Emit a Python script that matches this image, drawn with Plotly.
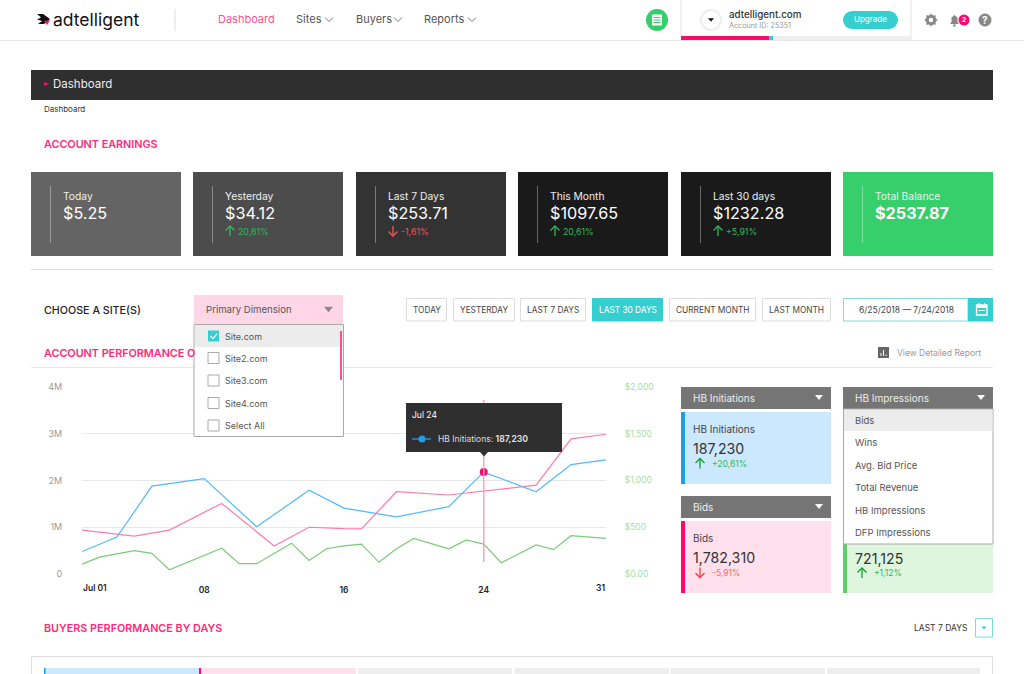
import math
import plotly.graph_objects as go

W = 1024
H = 674
FONT = "Inter"

PINK = "#ff0a6c"
PINK_TEXT = "#ff2a7c"
TEAL = "#36cfcf"
GREEN = "#2fb95a"
RED = "#f25555"

# chart values
blue_days = [1, 3, 5, 8, 11, 14, 16, 19, 22, 24, 27, 29, 31]
blue_values = [480000, 790000, 1880000, 2040000, 1010000, 1790000, 1410000, 1220000, 1440000, 2180000, 1760000, 2340000, 2440000]

pink_days = [1, 3, 4, 6, 9, 12, 14, 16, 17, 19, 22, 27, 29, 31]
pink_values = [940000, 860000, 810000, 940000, 1510000, 600000, 1000000, 970000, 965000, 1760000, 1690000, 1900000, 2890000, 2990000]

green_days = [1, 2, 4, 5, 6, 9, 10, 11, 13, 14, 15, 16, 17, 18, 19, 20, 22, 23, 24, 25, 27, 28, 29, 31]
green_values = [105, 180, 250, 220, 45, 275, 110, 110, 330, 145, 270, 300, 320, 125, 270, 380, 270, 365, 320, 120, 310, 260, 410, 380]

hover_day = 24

left_ticks = [0, 1000000, 2000000, 3000000, 4000000]
left_labels = ["0", "1M", "2M", "3M", "4M"]
right_ticks = [0, 500, 1000, 1500, 2000]
right_labels = ["$0.00", "$500", "$1,000", "$1,500", "$2,000"]
x_ticks = [8, 16, 24]
x_labels = ["08", "16", "24"]

# dashboard texts and numbers
kpi_titles = ["Today", "Yesterday", "Last 7 Days", "This Month", "Last 30 days", "Total Balance"]
kpi_values = ["$5.25", "$34.12", "$253.71", "$1097.65", "$1232.28", "$2537.87"]
kpi_deltas = ["", "20,61%", "-1,61%", "20,61%", "+5,91%", ""]
kpi_left = [31, 193, 356, 518, 681, 843]
kpi_fill = ["#646464", "#4c4c4c", "#333333", "#1a1a1a", "#1a1a1a", "#36cf6b"]

range_labels = ["TODAY", "YESTERDAY", "LAST 7 DAYS", "LAST 30 DAYS", "CURRENT MONTH", "LAST MONTH"]
range_left = [406, 453, 520, 592, 669, 762]
range_right = [447, 515, 586, 663, 756, 831]

site_names = ["Site.com", "Site2.com", "Site3.com", "Site4.com", "Select All"]
metric_names = ["Bids", "Wins", "Avg. Bid Price", "Total Revenue", "HB Impressions", "DFP Impressions"]

shapes = []
annotations = []


def fx(x):
    return x / W


def fy(y):
    return 1 - y / H


def rect(x0, y0, x1, y1, fill, line=None, width=1):
    shapes.append(dict(
        type="rect", xref="paper", yref="paper", layer="above",
        x0=fx(x0), x1=fx(x1), y0=fy(y0), y1=fy(y1),
        fillcolor=fill,
        line=dict(color=line or "rgba(0,0,0,0)", width=width if line else 0),
    ))


def circle(cx, cy, r, fill, line=None, width=1):
    shapes.append(dict(
        type="circle", xref="paper", yref="paper", layer="above",
        x0=fx(cx - r), x1=fx(cx + r), y0=fy(cy - r), y1=fy(cy + r),
        fillcolor=fill,
        line=dict(color=line or "rgba(0,0,0,0)", width=width if line else 0),
    ))


def poly(points, fill=None, line=None, width=1, close=True):
    d = "M" + " L".join(f"{fx(x):.5f},{fy(y):.5f}" for x, y in points)
    if close:
        d += " Z"
    shapes.append(dict(
        type="path", xref="paper", yref="paper", layer="above", path=d,
        fillcolor=fill or "rgba(0,0,0,0)",
        line=dict(color=line or "rgba(0,0,0,0)", width=width if line else 0),
    ))


def hline(x0, x1, y, color, width=1):
    poly([(x0, y), (x1, y)], line=color, width=width, close=False)


def vline(x, y0, y1, color, width=1):
    poly([(x, y0), (x, y1)], line=color, width=width, close=False)


def label(x, y, text, size, color, anchor="left", weight=None):
    font = dict(family=FONT, size=size, color=color)
    if weight:
        font["weight"] = weight
    annotations.append(dict(
        xref="paper", yref="paper", x=fx(x), y=fy(y), text=text,
        showarrow=False, xanchor=anchor, yanchor="middle",
        borderpad=0, borderwidth=0, font=font,
    ))


def arrow(x, y, up, color):
    d = -1 if up else 1
    poly([(x, y - 5 * d), (x, y + 5 * d)], line=color, width=1.3, close=False)
    poly([(x - 4.5, y + 0.5 * d), (x, y + 5 * d), (x + 4.5, y + 0.5 * d)], line=color, width=1.3, close=False)


def caret(cx, cy, half, color):
    poly([(cx - half, cy - half * 0.6), (cx + half, cy - half * 0.6), (cx, cy + half * 0.6)], fill=color)


def chevron(cx, cy):
    poly([(cx - 4, cy - 2), (cx, cy + 2), (cx + 4, cy - 2)], line="#777777", width=1, close=False)


def top_bar():
    hline(0, W, 40.5, "#e6e6e6")
    # logo
    poly([(37, 14), (43, 14), (50, 19), (44, 24), (38, 24), (42, 21), (37, 19.5), (41, 17.5)], fill="#111111")
    poly([(44, 21), (50, 20), (47, 25)], fill=PINK)
    label(53, 19, "adtelligent", 17.5, "#111111")
    vline(175, 9, 31, "#dddddd")

    label(218, 19, "Dashboard", 11, "#ff4f93")
    label(296, 19, "Sites", 11, "#555555")
    chevron(329, 19.5)
    label(356, 19, "Buyers", 11, "#555555")
    chevron(398, 19.5)
    label(424, 19, "Reports", 11, "#555555")
    chevron(472, 19.5)

    # green messages button
    circle(657, 20, 11, "#33cf6b")
    rect(652, 14.5, 662, 25.5, "#ffffff")
    for yy in (17.5, 20, 22.5):
        hline(653.5, 660.5, yy, "#33cf6b")

    vline(681, 0, 40, "#e2e2e2")
    vline(911, 0, 40, "#e2e2e2")
    circle(711, 20, 10, "#ffffff", "#eeeeee", 2)
    caret(711, 20, 3, "#111111")
    label(729, 14, "adtelligent.com", 9.8, "#333333", weight=500)
    label(729, 25.5, "Account ID: 25351", 7.2, "#999999")
    circle(852, 20, 9, TEAL)
    circle(889, 20, 9, TEAL)
    rect(852, 11, 889, 29, TEAL)
    label(870.5, 19.5, "Upgrade", 8, "#ffffff", anchor="center")
    rect(681, 36, 769, 40, PINK)
    rect(769, 36, 773, 40, TEAL)
    rect(773, 36, 911, 40, "#eeeeee")

    # gear
    teeth = []
    for i in range(16):
        a = i * math.pi / 8
        r = 6.6 if i % 2 == 0 else 5
        teeth.append((931 + r * math.cos(a), 20 + r * math.sin(a)))
    poly(teeth, fill="#888888")
    circle(931, 20, 2.2, "#ffffff")
    # bell
    poly([(950, 24), (951.5, 22), (951.5, 17.5), (954.5, 15), (957.5, 17.5), (957.5, 22), (959, 24)], fill="#888888")
    circle(954.5, 25.5, 1.3, "#888888")
    circle(964, 20, 5.5, PINK)
    label(964, 20, "2", 6.5, "#ffffff", anchor="center", weight=700)
    # help
    circle(985, 20, 6.5, "#888888")
    label(985, 20, "?", 10, "#ffffff", anchor="center", weight=700)


def title_bar():
    rect(31, 70, 993, 100, "#2f2f2f")
    poly([(44, 82), (49, 84), (44, 86)], fill=PINK)
    label(53, 84, "Dashboard", 11.5, "#eeeeee")
    label(44, 109, "Dashboard", 8, "#333333")
    label(44, 144.5, "ACCOUNT EARNINGS", 10.8, PINK_TEXT, weight=600)


def kpi_cards():
    for title, value, delta, left, fill in zip(kpi_titles, kpi_values, kpi_deltas, kpi_left, kpi_fill):
        rect(left, 172, left + 150, 256, fill)
        vline(left + 19.5, 186, 243, "rgba(255,255,255,0.35)")
        label(left + 32, 195.5, title, 10.3, "#eeeeee")
        label(left + 32, 213.5, value, 16.2, "#ffffff", weight=700 if title == "Total Balance" else None)
        if delta:
            down = delta.startswith("-")
            color = RED if down else GREEN
            arrow(left + 37, 231, not down, color)
            label(left + 45, 231, delta, 8.8, color)
    hline(31, 993, 269.5, "#dddddd")


def filter_row():
    label(44, 310.5, "CHOOSE A SITE(S)", 10.7, "#222222", weight=500)
    for text, x0, x1 in zip(range_labels, range_left, range_right):
        active = text == "LAST 30 DAYS"
        rect(x0 + 0.5, 298.5, x1 - 0.5, 321, TEAL if active else "#ffffff", TEAL if active else "#dddddd")
        label((x0 + x1) / 2, 310, text, 8.3, "#ffffff" if active else "#444444", anchor="center")
    rect(843.5, 298.5, 968, 321, "#ffffff", "#7fdcdc")
    label(906, 310, "6/25/2018 — 7/24/2018", 8.5, "#444444", anchor="center")
    rect(968, 298, 993, 321.5, TEAL)
    # calendar
    rect(976.5, 305, 987, 315, "rgba(0,0,0,0)", "#ffffff", 1.3)
    rect(976.5, 305, 987, 308, "#ffffff")
    vline(979, 303, 305, "#ffffff")
    vline(984.5, 303, 305, "#ffffff")
    hline(978.5, 985, 310.5, "#ffffff")

    label(44, 353, "ACCOUNT PERFORMANCE O", 10.8, PINK_TEXT, weight=600)
    hline(31, 993, 367.5, "#e6e6e6")
    rect(878, 347, 889, 358, "#666666")
    for xx, top in ((881, 353), (883.5, 350), (886, 354.5)):
        vline(xx, top, 356, "#ffffff")
    label(897, 353, "View Detailed Report", 8.5, "#999999")


def site_dropdown():
    rect(194, 295, 343, 324, "#ffd6e6")
    label(206, 309, "Primary Dimension", 9.6, "#555555")
    caret(328.5, 309.5, 4.5, "#888888")
    rect(194, 324.5, 343.5, 436.5, "#ffffff", "#aaaaaa")
    rect(195, 325, 343, 347, "#ececec")
    rows = [336, 358, 380.5, 403, 425.5]
    for name, y in zip(site_names, rows):
        if name == "Site.com":
            rect(208, y - 5.5, 219, y + 5.5, TEAL)
            poly([(210.5, y), (213, y + 2.5), (217, y - 2.5)], line="#ffffff", width=1.2, close=False)
        else:
            rect(208, y - 5.5, 219, y + 5.5, "#ffffff", "#aaaaaa")
        label(225, y, name, 9, "#555555")
    rect(340, 331, 342, 380, "#ff4f93")


def tooltip():
    rect(406, 403, 562, 452, "#2f2f2f")
    poly([(480, 452), (488, 452), (484, 456.5)], fill="#2f2f2f")
    label(412, 415, "Jul 24", 8.5, "#ffffff")
    hline(412, 431, 439, "#1e9cf0", 1.3)
    circle(422, 439, 3.5, "#1e9cf0")
    label(438, 439, "HB Initiations: <b>187,230</b>", 8.5, "#dddddd")


def card_header(left, top, text):
    rect(left, top, left + 150, top + 22, "#757575")
    label(left + 12, top + 11, text, 10, "#eeeeee")
    caret(left + 138, top + 10.5, 4, "#ffffff")


def card_figures(left, value_y, value, delta):
    label(left + 12, value_y, value, 14.2, "#333333")
    down = delta.startswith("-")
    color = "#ff6b6b" if down else GREEN
    arrow(left + 19, value_y + 15, not down, "#ff3b3b" if down else "#0fa32e")
    label(left + 31, value_y + 15, delta, 8.5, color)


def metric_card(left, top, title, value, delta, fill, bar):
    card_header(left, top, title)
    rect(left, top + 25, left + 150, top + 97, fill)
    rect(left, top + 25, left + 4, top + 97, bar)
    label(left + 12, top + 41.5, title, 10, "#444444")
    card_figures(left, top + 61.5, value, delta)


def side_cards():
    metric_card(681, 387, "HB Initiations", "187,230", "+20,61%", "#cce8ff", "#1e9cf0")
    metric_card(681, 496, "Bids", "1,782,310", "-5,91%", "#ffe0ec", PINK)

    # third card has its menu open, only the lower part of the card shows
    card_header(843, 387, "HB Impressions")
    rect(843, 540, 993, 593, "#def5de")
    rect(843, 540, 847, 593, "#5ccf66")
    card_figures(843, 558, "721,125", "+1,12%")
    rect(843.5, 409, 993, 544, "#ffffff", "#aaaaaa")
    rect(844, 410, 992.5, 431, "#ececec")
    rows = [420, 442.5, 465, 487.5, 510, 532.5]
    for name, y in zip(metric_names, rows):
        label(855, y, name, 9.5, "#555555")


def buyers_row():
    label(44, 628, "BUYERS PERFORMANCE BY DAYS", 10.8, PINK_TEXT, weight=600)
    label(968, 628, "LAST 7 DAYS", 8.5, "#333333", anchor="right")
    rect(975.5, 618.5, 992.5, 637, "#ffffff", "#7fdcdc")
    caret(984, 628, 2.5, TEAL)
    rect(31.5, 656.5, 992.5, 680, "#ffffff", "#dddddd")
    rect(44, 668, 199, 680, "#cce8ff")
    rect(44, 668, 45.5, 680, "#1e9cf0")
    rect(199, 668, 356, 680, "#ffe0ec")
    rect(199, 668, 201, 680, PINK)
    for x0, x1 in ((358, 512), (514.5, 669), (670.5, 825), (827, 980)):
        rect(x0, 668, x1, 680, "#eeeeee")


fig = go.Figure()
fig.add_trace(go.Scatter(x=green_days, y=green_values, yaxis="y2", mode="lines", line=dict(color="#77cc77", width=1.2)))
fig.add_trace(go.Scatter(x=pink_days, y=pink_values, mode="lines", line=dict(color="#ff7bab", width=1.2)))
fig.add_trace(go.Scatter(x=blue_days, y=blue_values, mode="lines", line=dict(color="#52b8ff", width=1.2)))
fig.add_trace(go.Scatter(
    x=[hover_day], y=[blue_values[blue_days.index(hover_day)]], mode="markers",
    marker=dict(color=PINK, size=8),
))

# crosshair at the hovered day
shapes.append(dict(
    type="line", xref="x", yref="paper", layer="above",
    x0=hover_day, x1=hover_day, y0=fy(400), y1=fy(562),
    line=dict(color="#ff9fc0", width=1.5),
))

top_bar()
title_bar()
kpi_cards()
filter_row()
tooltip()
site_dropdown()
side_cards()
buyers_row()

# first and last date labels hang inward from the plot edges
annotations.append(dict(
    xref="x", yref="paper", x=1, y=fy(588), text="Jul 01", showarrow=False, xanchor="left", yanchor="middle",
    borderpad=0, font=dict(family=FONT, size=8.5, color="#222222", weight=600),
))
annotations.append(dict(
    xref="x", yref="paper", x=31, y=fy(588), text="31", showarrow=False, xanchor="right", yanchor="middle",
    borderpad=0, font=dict(family=FONT, size=8.5, color="#222222", weight=600),
))

fig.update_layout(
    width=W,
    height=H,
    margin=dict(l=0, r=0, t=0, b=0),
    paper_bgcolor="#ffffff",
    plot_bgcolor="#ffffff",
    showlegend=False,
    hovermode=False,
    font=dict(family=FONT),
    shapes=shapes,
    annotations=annotations,
    xaxis=dict(
        domain=[fx(82), fx(606)], range=[1, 31], automargin=False,
        tickvals=x_ticks, ticktext=x_labels,
        ticks="outside", ticklen=8, tickcolor="rgba(0,0,0,0)",
        tickfont=dict(family=FONT, size=8.5, color="#222222", weight=600),
        showgrid=False, zeroline=False, showline=False,
    ),
    yaxis=dict(
        domain=[fy(574), fy(387)], range=[0, 4000000], automargin=False,
        tickvals=left_ticks, ticktext=left_labels,
        ticks="outside", ticklen=17, tickcolor="rgba(0,0,0,0)",
        tickfont=dict(family=FONT, size=9, color="#999999"),
        gridcolor="#e8e8e8", gridwidth=1, zeroline=False, showline=False,
    ),
    yaxis2=dict(
        domain=[fy(574), fy(387)], range=[0, 2000], overlaying="y", side="right", anchor="x", automargin=False,
        tickvals=right_ticks, ticktext=right_labels,
        ticks="outside", ticklen=16, tickcolor="rgba(0,0,0,0)",
        tickfont=dict(family=FONT, size=8.5, color="#a4dfa0"),
        showgrid=False, zeroline=False, showline=False,
    ),
)

fig.write_html(
    "out.html",
    config=dict(displayModeBar=False),
    post_script="document.body.style.margin='0';document.body.style.overflow='hidden';",
)
